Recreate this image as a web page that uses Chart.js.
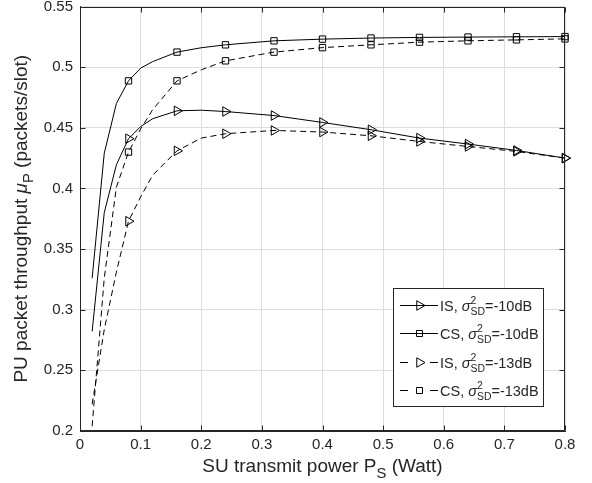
<!DOCTYPE html>
<html><head><meta charset="utf-8">
<script src="https://cdn.jsdelivr.net/npm/chart.js@4.4.1/dist/chart.umd.min.js"></script>
<style>html,body{margin:0;padding:0;background:#fff;}#wrap{width:592px;height:483px;}</style>
</head><body><div id="wrap"><canvas id="c" width="592" height="483"></canvas></div>
<script>
// ---- data ----
const powerLevels = [0.02,0.04,0.06,0.08,0.10,0.12,0.16,0.20,0.24,0.32,0.40,0.48,0.56,0.64,0.72,0.80];
const isMinus10 = [0.282,0.380,0.4195,0.441,0.451,0.4575,0.4640,0.4645,0.4634,0.4601,0.4544,0.4484,0.4415,0.4366,0.4313,0.4250];
const csMinus10 = [0.326,0.429,0.470,0.4887,0.4992,0.5046,0.5124,0.5160,0.5184,0.5217,0.5231,0.5240,0.5245,0.5248,0.5250,0.5252];
const isMinus13 = [0.222,0.2836,0.331,0.373,0.393,0.411,0.431,0.4415,0.4451,0.4478,0.4465,0.4434,0.4387,0.4346,0.4305,0.4250];
const csMinus13 = [0.204,0.326,0.401,0.430,0.449,0.465,0.4887,0.4978,0.5052,0.5124,0.5161,0.5184,0.5206,0.5217,0.5225,0.5233];
const markerPowers = [0.08,0.16,0.24,0.32,0.40,0.48,0.56,0.64,0.72,0.80];
const xTickValues = [0,0.1,0.2,0.3,0.4,0.5,0.6,0.7,0.8];
const xTickLabels = ['0','0.1','0.2','0.3','0.4','0.5','0.6','0.7','0.8'];
const yTickValues = [0.2,0.25,0.3,0.35,0.4,0.45,0.5,0.55];
const yTickLabels = ['0.2','0.25','0.3','0.35','0.4','0.45','0.5','0.55'];
const schemeNames = ['IS','CS','IS','CS'];
const noiseLabels = ['-10dB','-10dB','-13dB','-13dB'];

const FONT = "'Liberation Sans', Arial, Helvetica, sans-serif";
const AX = '#262626';
const isMarker = x => markerPowers.some(m => Math.abs(m - x) < 1e-9);

function makeSet(values, idx, dashed, style) {
  return {
    label: schemeNames[idx] + ', ' + noiseLabels[idx],
    data: powerLevels.map((p, i) => ({x: p, y: values[i]})),
    borderColor: '#000', borderWidth: 1, borderDash: dashed ? [6,4] : [],
    pointStyle: style, pointRotation: style === 'triangle' ? 90 : 0,
    pointRadius: c => (c.raw && isMarker(c.raw.x)) ? (style === 'triangle' ? 5.5 : 4.5) : 0,
    pointHoverRadius: 0, pointBorderColor: '#000', pointBorderWidth: 1,
    pointBackgroundColor: 'rgba(0,0,0,0)', tension: 0, fill: false,
    clip: {left: 0, top: 10, right: 10, bottom: 0}
  };
}

// rich text: parts {t, it, sub, stack:{sup,sub}}
function setF(ctx, size, it) { ctx.font = (it ? 'italic ' : '') + size + 'px ' + FONT; }
function partWidth(ctx, p, size) {
  if (p.stack) {
    setF(ctx, size * 0.72, false);
    return Math.max(ctx.measureText(p.stack.sup).width, ctx.measureText(p.stack.sub).width);
  }
  setF(ctx, p.sub ? size * 0.78 : size, p.it);
  return ctx.measureText(p.t).width;
}
function richWidth(ctx, parts, size) {
  let w = 0;
  for (const p of parts) w += partWidth(ctx, p, size);
  return w;
}
function drawRich(ctx, parts, x, y, size, align) {
  ctx.save();
  ctx.fillStyle = AX; ctx.textBaseline = 'alphabetic'; ctx.textAlign = 'left';
  const w = richWidth(ctx, parts, size);
  let cx = align === 'center' ? x - w / 2 : x;
  for (const p of parts) {
    const pw = partWidth(ctx, p, size);
    if (p.stack) {
      setF(ctx, size * 0.72, false);
      ctx.fillText(p.stack.sup, cx, y - size * 0.48);
      ctx.fillText(p.stack.sub, cx, y + size * 0.3);
    } else if (p.sub) {
      setF(ctx, size * 0.78, p.it);
      ctx.fillText(p.t, cx, y + size * 0.3);
    } else {
      setF(ctx, size, p.it);
      ctx.fillText(p.t, cx, y);
    }
    cx += pw;
  }
  ctx.restore();
}

const framePlugin = {
  id: 'frame',
  afterDraw(chart) {
    const ctx = chart.ctx, a = chart.chartArea;
    const xs = chart.scales.x, ys = chart.scales.y;
    const L = Math.round(a.left) + 0.5, R = Math.round(a.right) - 0.5;
    const T = Math.round(a.top) + 0.5, B = Math.round(a.bottom) - 0.5;
    ctx.save();
    ctx.strokeStyle = AX; ctx.lineWidth = 1; ctx.setLineDash([]);
    ctx.strokeRect(L, T, R - L, B - T);
    const tl = 5;
    ctx.beginPath();
    for (const v of xTickValues) {
      const px = Math.round(xs.getPixelForValue(v)) + 0.5;
      ctx.moveTo(px, B); ctx.lineTo(px, B - tl);
      ctx.moveTo(px, T); ctx.lineTo(px, T + tl);
    }
    for (const v of yTickValues) {
      const py = Math.round(ys.getPixelForValue(v)) + 0.5;
      ctx.moveTo(L, py); ctx.lineTo(L + tl, py);
      ctx.moveTo(R, py); ctx.lineTo(R - tl, py);
    }
    ctx.stroke();
    ctx.restore();

    // axis titles
    drawRich(ctx, [{t: 'SU transmit power P'}, {t: 'S', sub: true}, {t: ' (Watt)'}],
      (a.left + a.right) / 2, 472, 19, 'center');
    ctx.save();
    ctx.translate(27, (a.top + a.bottom) / 2);
    ctx.rotate(-Math.PI / 2);
    drawRich(ctx, [{t: 'PU packet throughput '}, {t: '\u03bc', it: true}, {t: 'P', sub: true}, {t: ' (packets/slot)'}],
      0, 0, 19, 'center');
    ctx.restore();

    // legend
    const bx = 393.5, by = 288.5, bw = 150, bh = 118;
    ctx.save();
    ctx.fillStyle = '#fff'; ctx.fillRect(bx, by, bw, bh);
    ctx.strokeStyle = AX; ctx.lineWidth = 1; ctx.strokeRect(bx, by, bw, bh);
    const rows = [305, 333.3, 361.7, 390];
    chart.data.datasets.forEach((ds, i) => {
      const yy = Math.round(rows[i]) + 0.5;
      ctx.strokeStyle = '#000'; ctx.lineWidth = 1;
      ctx.setLineDash(ds.borderDash.length ? [8, 22] : []);
      ctx.beginPath(); ctx.moveTo(400, yy); ctx.lineTo(438, yy); ctx.stroke();
      ctx.setLineDash([]);
      ctx.beginPath();
      const mx = 419.5, r = 5.5;
      if (ds.pointStyle === 'triangle') {
        ctx.moveTo(mx + r, yy);
        ctx.lineTo(mx - r / 2, yy - r * 0.866);
        ctx.lineTo(mx - r / 2, yy + r * 0.866);
        ctx.closePath();
      } else {
        ctx.rect(mx - 3, yy - 3, 6, 6);
      }
      ctx.stroke();
      drawRich(ctx, [{t: schemeNames[i] + ', '}, {t: '\u03c3', it: true}, {stack: {sup: '2', sub: 'SD'}}, {t: '=' + noiseLabels[i]}],
        440, yy + 5, 14.5, 'left');
    });
    ctx.restore();
  }
};

new Chart(document.getElementById('c'), {
  type: 'line',
  data: { datasets: [
    makeSet(isMinus10, 0, false, 'triangle'),
    makeSet(csMinus10, 1, false, 'rect'),
    makeSet(isMinus13, 2, true, 'triangle'),
    makeSet(csMinus13, 3, true, 'rect')
  ]},
  options: {
    responsive: false, animation: false, devicePixelRatio: 1,
    layout: { padding: { top: 6, right: 27, left: 0, bottom: 0 } },
    plugins: { legend: { display: false }, tooltip: { enabled: false } },
    events: [],
    scales: {
      x: {
        type: 'linear', min: 0, max: 0.8,
        afterBuildTicks: s => { s.ticks = xTickValues.map(v => ({value: v})); },
        afterFit: s => { s.height = 52; s.paddingLeft = 0; s.paddingRight = 0; },
        ticks: { callback: (v, i) => xTickLabels[i], color: AX, padding: 5, maxRotation: 0,
                 font: { family: FONT, size: 15 } },
        grid: { color: '#dedede', drawTicks: false, lineWidth: 1 },
        border: { display: true, color: AX }
      },
      y: {
        type: 'linear', min: 0.2, max: 0.55,
        afterBuildTicks: s => { s.ticks = yTickValues.map(v => ({value: v})); },
        afterFit: s => { s.width = 80; s.paddingTop = 0; s.paddingBottom = 0; },
        ticks: { callback: (v, i) => yTickLabels[i], color: AX, padding: 7,
                 font: { family: FONT, size: 15 } },
        grid: { color: '#dedede', drawTicks: false, lineWidth: 1 },
        border: { display: true, color: AX }
      }
    }
  },
  plugins: [framePlugin]
});
</script></body></html>
